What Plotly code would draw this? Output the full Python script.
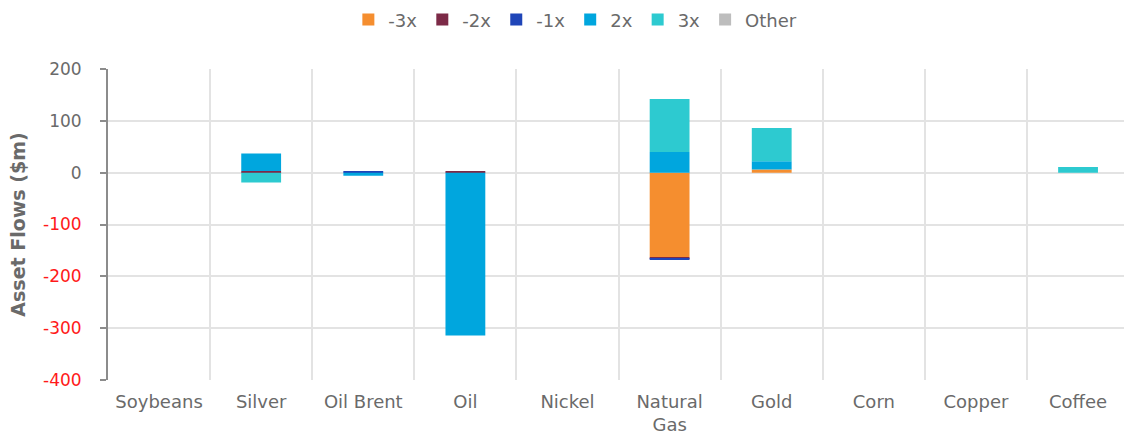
import plotly.graph_objects as go

# Commodity categories (x axis)
categories = ["Soybeans", "Silver", "Oil Brent", "Oil", "Nickel",
              "Natural<br>Gas", "Gold", "Corn", "Copper", "Coffee"]

# Asset flows ($m) per leverage bucket
flows_m3x = [0, 0, 0, 0, 0, -163, 6, 0, 0, 0]
flows_m2x = [0, 3, 0, 3, 0, -2, 0, 0, 0, 0]
flows_m1x = [0, 0, 3, 0, 0, -3, 0, 0, 0, 0]
flows_2x = [0, 34, -6, -314, 0, 40, 16, 0, 0, 0]
flows_3x = [0, -19, 0, 0, 0, 102, 64, 0, 0, 11]
flows_other = [0, 0, 0, 0, 0, 0, 0, 0, 0, 0]

series_names = ["-3x", "-2x", "-1x", "2x", "3x", "Other"]
series_values = [flows_m3x, flows_m2x, flows_m1x, flows_2x, flows_3x, flows_other]
series_colors = ["#F58E2F", "#7C2A47", "#1F45B8", "#00A6DE", "#2DCAD0", "#BDBDBD"]

# Y axis ticks, negatives shown in red
y_ticks = [200, 100, 0, -100, -200, -300, -400]
y_labels = [str(v) if v >= 0 else f'<span style="color:#FF1A1A">{v}</span>' for v in y_ticks]

font_family = "'DejaVu Sans', sans-serif"
grey_text = "#6A6A6A"

fig = go.Figure()
for name, vals, col in zip(series_names, series_values, series_colors):
    fig.add_trace(go.Bar(
        x=categories, y=vals, name=name,
        marker=dict(color=col, line=dict(width=0)),
        width=0.39,
    ))

fig.update_layout(
    width=1124, height=438,
    margin=dict(l=108, r=0, t=69, b=58),
    barmode="relative",
    plot_bgcolor="white", paper_bgcolor="white",
    font=dict(family=font_family, size=16, color=grey_text),
    legend=dict(orientation="h", x=0.46, xanchor="center", y=1.158, yanchor="middle",
                font=dict(size=18, color=grey_text), itemwidth=30,
                traceorder="normal", tracegroupgap=0),
    xaxis=dict(
        range=[-0.5, 9.45], tickson="boundaries", showgrid=True,
        gridcolor="#E3E3E3", gridwidth=2, ticks="", showline=False,
        tickfont=dict(size=18, color=grey_text), zeroline=False,
        ticklabelstandoff=9, automargin=False,
    ),
    yaxis=dict(
        range=[-400, 200], tickvals=y_ticks, ticktext=y_labels,
        showgrid=True, gridcolor="#E3E3E3", gridwidth=2,
        zeroline=True, zerolinecolor="#E3E3E3", zerolinewidth=2,
        showline=True, linecolor="#8C8C8C", linewidth=2,
        ticks="outside", ticklen=6, tickcolor="#8C8C8C", tickwidth=2,
        tickfont=dict(size=17, color=grey_text), ticklabelstandoff=15,
        automargin=False,
        title=dict(text="<b>Asset Flows ($m)</b>", font=dict(size=19, color=grey_text), standoff=12),
    ),
    bargap=0.6,
)

fig.write_html("out.html")
